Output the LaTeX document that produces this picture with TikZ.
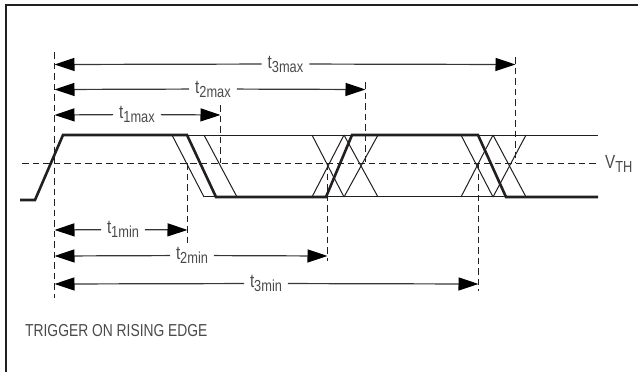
\documentclass[tikz,border=0pt]{standalone}
\usepackage{fontspec}
\setmainfont[FakeStretch=0.8]{Liberation Sans}
\usetikzlibrary{arrows.meta}
\definecolor{ink}{HTML}{231F20}
\definecolor{txt}{HTML}{4A4A4A}
\newcommand{\tlab}[1]{t\raisebox{-4pt}{\fontsize{16}{17}\selectfont #1}}
\tikzset{
  x=1pt,y=-1pt,
  frameline/.style={draw=ink,line width=2pt},
  thinw/.style={draw=ink,line width=1pt},
  thickw/.style={draw=ink,line width=2.6pt,line join=miter},
  dashv/.style={draw=ink,line width=1.2pt,dash pattern=on 6.5pt off 4pt},
  dim/.style={draw=ink!90,line width=1.2pt,-{Triangle[length=20pt,width=13pt,color=black]},shorten >=0pt},
  lab/.style={inner sep=0pt,outer xsep=6pt,text=txt,font=\fontsize{19}{20}\selectfont,anchor=center},
  note/.style={inner sep=0pt,text=txt,font=\fontsize{17.3}{19}\selectfont,anchor=west},
}
\begin{document}
\begin{tikzpicture}
\useasboundingbox (0,0) rectangle (638,372);
% frame
\coordinate (fa) at (6,372); \coordinate (fb) at (6,4.5); \coordinate (fc) at (638,4.5);
\draw[frameline] (fa) -- (fb) -- (fc);
% level rails
\coordinate (hiA) at (187,135.5); \coordinate (hiB) at (598,135.5);
\coordinate (loA) at (204,196.5); \coordinate (loB) at (598,196.5);
\draw[thinw] (hiA) -- (hiB);
\draw[thinw] (loA) -- (loB);
% threshold
\coordinate (thA) at (22,163.5); \coordinate (thB) at (596,163.5);
\draw[dashv] (thA) -- (thB);
\node[inner sep=0pt,text=txt,anchor=west,font=\fontsize{19}{20}\selectfont] (vth) at (605,164) {V\raisebox{-4pt}{\fontsize{16}{17}\selectfont TH}};
% thin edges
\foreach \a/\b/\c/\d/\n in {172/135/204/197/a,204/135/237/197/b,
  312/135/344/197/c,312/197/344/135/d,344/135/378/197/e,344/197/378/135/f,
  461/135/493/197/g,461/197/493/135/h,493/135/526/197/i,493/197/526/135/j}{
  \coordinate (e\n1) at (\a,\b); \coordinate (e\n2) at (\c,\d);
  \draw[thinw] (e\n1) -- (e\n2);
}
% bold waveform
\coordinate (w0) at (20,200); \coordinate (w1) at (35,200); \coordinate (w2) at (63,135);
\coordinate (w3) at (187,135); \coordinate (w4) at (216,197); \coordinate (w5) at (326,197);
\coordinate (w6) at (352,135); \coordinate (w7) at (478,135); \coordinate (w8) at (506,197);
\coordinate (w9) at (598,197);
\draw[thickw] (w0) -- (w1) -- (w2) -- (w3) -- (w4) -- (w5) -- (w6) -- (w7) -- (w8) -- (w9);
% extension lines
\coordinate (d0a) at (54.5,52); \coordinate (d0b) at (54.5,298);
\draw[dashv] (d0a) -- (d0b);
\foreach \x/\p/\q/\n in {515.5/57/163/a,365.5/82/163/b,220.5/105/163/c,187.5/163/243/d,327.5/163/261/e,478.5/163/291/f}{
  \coordinate (x\n1) at (\x,\p); \coordinate (x\n2) at (\x,\q);
  \draw[dashv] (x\n1) -- (x\n2);
}
% dimension lines
\foreach \lx/\y/\rx/\cx/\t/\n in {
  54.5/64.5/515.5/285.5/3max/A,
  54.5/89.5/365.5/213/2max/B,
  54.5/115/220.5/137/1max/C,
  54.5/230/187.5/123/1min/D,
  54.5/256/327.5/192/2min/E,
  54.5/284/478.5/266/3min/F}{
  \coordinate (l\n) at (\lx,\y);
  \coordinate (r\n) at (\rx,\y);
  \node[lab] (t\n) at (\cx,\y-0.5) {\tlab{\t}};
  \draw[dim] (t\n) -- (l\n);
  \draw[dim] (t\n) -- (r\n);
}
\node[note] (trig) at (25,331) {TRIGGER ON RISING EDGE};
\end{tikzpicture}
\end{document}
